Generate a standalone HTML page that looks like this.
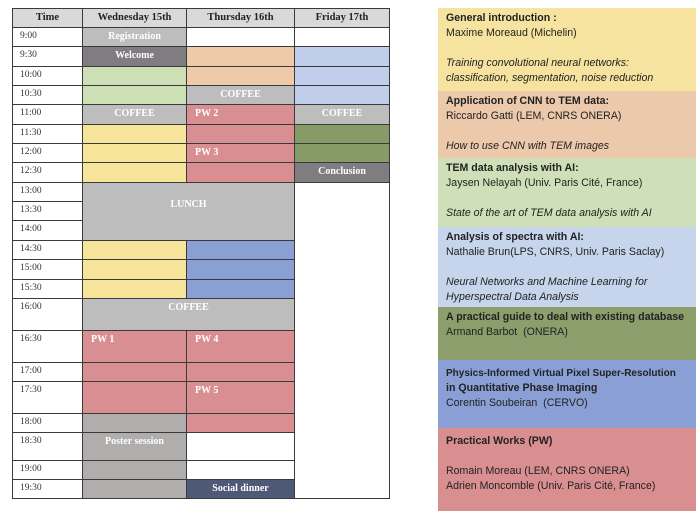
<!DOCTYPE html>
<html><head><meta charset="utf-8"><style>
body{margin:0;width:700px;height:519px;background:#fff;position:relative;overflow:hidden}
.c{position:absolute;box-sizing:border-box;border:1px solid #3a3a3a;font-family:"Liberation Serif",serif;font-weight:bold;font-size:10px;color:#fff;text-align:center;line-height:17px;overflow:hidden}
.t{color:#333;font-weight:normal;text-align:left;padding-left:7px;font-size:9.5px}
.h{background:#d9d9d9;color:#222;font-size:10.5px}
.l{text-align:left;padding-left:8px}
.p{position:absolute;left:438px;width:258px;box-sizing:border-box;padding:3px 8px;font-family:"Liberation Sans",sans-serif;font-size:10.6px;line-height:15px;color:#222}
.p b{font-weight:bold}
.p i{display:block}
</style></head><body>
<div id="tbl"></div>
<script>
const X={T:[12,82],W:[82,186],H:[186,294],F:[294,389],WH:[82,294]};
const C={g:'#bdbdbd',dg:'#7f7d7f',gr:'#cde0b5',y:'#f6e49a',pe:'#efcaa9',lb:'#c0cdeb',r:'#d98f92',dgr:'#879b68',b:'#8aa0d5',pg:'#b0adad',sd:'#4e5877',w:'#fff'};
const cells=[
['T',8,27,'h','Time'],['W',8,27,'h','Wednesday 15th'],['H',8,27,'h','Thursday 16th'],['F',8,27,'h','Friday 17th'],
['W',27,46,'g','Registration'],['W',46,66,'dg','Welcome'],['W',66,85,'gr',''],['W',85,104,'gr',''],['W',104,124,'g','COFFEE'],
['W',124,143,'y',''],['W',143,162,'y',''],['W',162,182,'y',''],['WH',182,240,'g','<div style="margin-top:13px">LUNCH</div>'],
['W',240,259,'y',''],['W',259,279,'y',''],['W',279,298,'y',''],['WH',298,330,'g','COFFEE'],
['W',330,362,'r','PW 1','l'],['W',362,381,'r',''],['W',381,413,'r',''],['W',413,432,'pg',''],['W',432,460,'pg','Poster session'],['W',460,479,'pg',''],['W',479,498,'pg',''],
['H',27,46,'w',''],['H',46,66,'pe',''],['H',66,85,'pe',''],['H',85,104,'g','COFFEE'],['H',104,124,'r','PW 2','l'],['H',124,143,'r',''],['H',143,162,'r','PW 3','l'],['H',162,182,'r',''],
['H',240,259,'b',''],['H',259,279,'b',''],['H',279,298,'b',''],
['H',330,362,'r','PW 4','l'],['H',362,381,'r',''],['H',381,413,'r','PW 5','l'],['H',413,432,'r',''],['H',432,460,'w',''],['H',460,479,'w',''],['H',479,498,'sd','Social dinner'],
['F',27,46,'w',''],['F',46,66,'lb',''],['F',66,85,'lb',''],['F',85,104,'lb',''],['F',104,124,'g','COFFEE'],['F',124,143,'dgr',''],['F',143,162,'dgr',''],['F',162,182,'dg','Conclusion'],['F',182,498,'w','']
];
const times=[['9:00',27,46],['9:30',46,66],['10:00',66,85],['10:30',85,104],['11:00',104,124],['11:30',124,143],['12:00',143,162],['12:30',162,182],['13:00',182,201],['13:30',201,220],['14:00',220,240],['14:30',240,259],['15:00',259,279],['15:30',279,298],['16:00',298,330],['16:30',330,362],['17:00',362,381],['17:30',381,413],['18:00',413,432],['18:30',432,460],['19:00',460,479],['19:30',479,498]];
let h='';
for(const [t,a,b] of times){h+=`<div class="c t" style="left:12px;top:${a}px;width:71px;height:${b-a+1}px;background:#fff">${t}</div>`}
for(const [k,a,b,col,txt,cl] of cells){const [x1,x2]=X[k];const isH=col==='h';
h+=`<div class="c ${isH?'h':''} ${cl||''}" style="left:${x1}px;top:${a}px;width:${x2-x1+1}px;height:${b-a+1}px;${isH?'':'background:'+C[col]}">${txt}</div>`}
document.getElementById('tbl').innerHTML=h;
</script>
<div class="p" style="top:8px;height:83px;background:#f7e3a0"><b>General introduction :</b><br>Maxime Moreaud (Michelin)<br><br><i>Training convolutional neural networks: classification, segmentation, noise reduction</i></div>
<div class="p" style="top:91px;height:67px;background:#ecc9ab"><b>Application of CNN to TEM data:</b><br>Riccardo Gatti (LEM, CNRS ONERA)<br><br><i>How to use CNN with TEM images</i></div>
<div class="p" style="top:158px;height:69px;background:#cfe0b9"><b>TEM data analysis with AI:</b><br>Jaysen Nelayah (Univ. Paris Cité, France)<br><br><i>State of the art of TEM data analysis with AI</i></div>
<div class="p" style="top:227px;height:80px;background:#c6d4ec"><b>Analysis of spectra with AI:</b><br>Nathalie Brun(LPS, CNRS, Univ. Paris Saclay)<br><br><i>Neural Networks and Machine Learning for Hyperspectral Data Analysis</i></div>
<div class="p" style="top:307px;height:53px;background:#8b9e6b"><b>A practical guide to deal with existing database</b><br>Armand Barbot&nbsp; (ONERA)</div>
<div class="p" style="top:360px;height:68px;background:#8a9fd5;padding-top:6px"><b style="font-size:10px;white-space:nowrap">Physics-Informed Virtual Pixel Super-Resolution</b><br><b>in Quantitative Phase Imaging</b><br>Corentin Soubeiran&nbsp; (CERVO)</div>
<div class="p" style="top:428px;height:83px;background:#d98f90;padding-top:6px"><b>Practical Works (PW)</b><br><br>Romain Moreau (LEM, CNRS ONERA)<br>Adrien Moncomble (Univ. Paris Cité, France)</div>
</body></html>
